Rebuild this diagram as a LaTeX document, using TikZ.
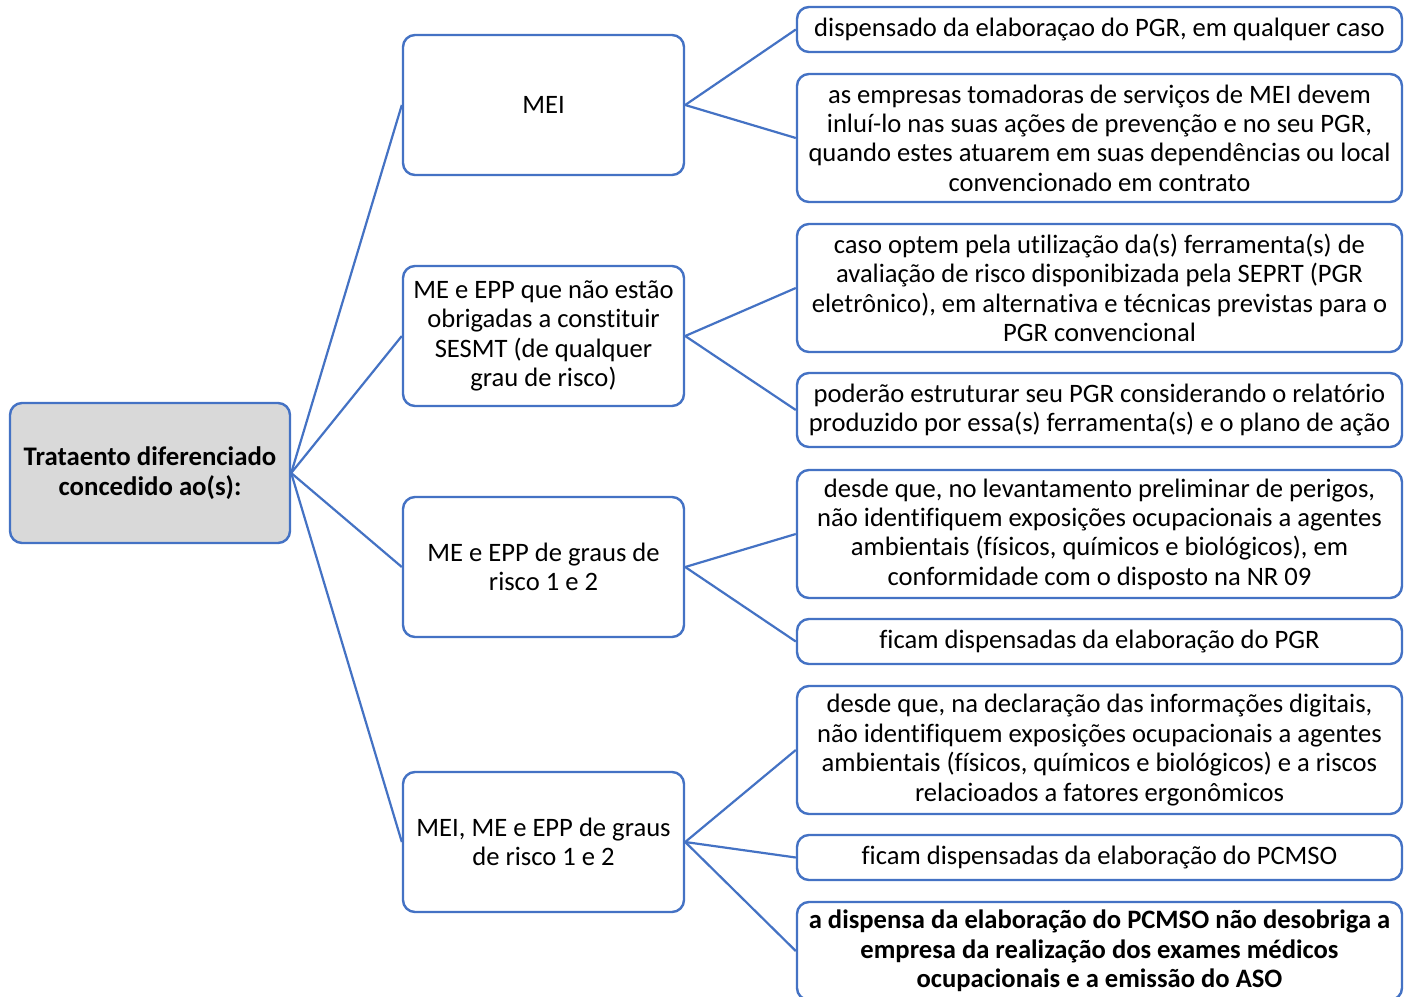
\documentclass[tikz,border=0pt]{standalone}
\usepackage{fontspec}
\setmainfont{Carlito}[RawFeature={-liga;-clig;-dlig;-calt}]
\definecolor{lineblue}{RGB}{68,114,196}
\definecolor{rootgray}{RGB}{217,217,217}
\begin{document}
\begin{tikzpicture}[x=1pt,y=-1pt,
  box/.style={draw=lineblue, line width=2.4pt, rounded corners=12pt, fill=white,
    align=center, inner sep=0pt, font=\fontsize{26.6}{29.4}\selectfont},
  rootbox/.style={box, fill=rootgray, font=\fontsize{26.8}{29.4}\selectfont\bfseries},
  midbox/.style={box, minimum width=281pt, minimum height=140pt},
  rbox/.style={box, minimum width=605pt},
  conn/.style={draw=lineblue, line width=2.2pt}]
\clip (0,0) rectangle (1408,996);
\fill[white] (0,0) rectangle (1408,996);

% root
\node[rootbox, minimum width=280pt, minimum height=140pt] (root) at (150,473)
  {\raisebox{-1.5pt}{\parbox{270pt}{\centering Trataento diferenciado\\concedido ao(s):}}};

% middle column
\node[midbox] (m1) at (543.5,105) {\raisebox{-1.5pt}{MEI}};
\node[midbox] (m2) at (543.5,336) {ME e EPP que não estão\\obrigadas a constituir\\SESMT (de qualquer\\grau de risco)};
\node[midbox] (m3) at (543.5,567) {ME e EPP de graus de\\risco 1 e 2};
\node[midbox] (m4) at (543.5,842) {MEI, ME e EPP de graus\\de risco 1 e 2};

% right column
\node[rbox, minimum height=45pt] (r1) at (1099.5,29.5) {dispensado da elaboraçao do PGR, em qualquer caso};
\node[rbox, minimum height=128pt] (r2) at (1099.5,138) {as empresas tomadoras de serviços de MEI devem\\inluí-lo nas suas ações de prevenção e no seu PGR,\\quando estes atuarem em suas dependências ou local\\convencionado em contrato};
\node[rbox, minimum height=128pt] (r3) at (1099.5,288) {caso optem pela utilização da(s) ferramenta(s) de\\avaliação de risco disponibizada pela SEPRT (PGR\\eletrônico), em alternativa e técnicas previstas para o\\PGR convencional};
\node[rbox, minimum height=74pt] (r4) at (1099.5,410) {poderão estruturar seu PGR considerando o relatório\\produzido por essa(s) ferramenta(s) e o plano de ação};
\node[rbox, minimum height=128pt] (r5) at (1099.5,534) {desde que, no levantamento preliminar de perigos,\\não identifiquem exposições ocupacionais a agentes\\ambientais (físicos, químicos e biológicos), em\\conformidade com o disposto na NR 09};
\node[rbox, minimum height=45pt] (r6) at (1099.5,641.5) {ficam dispensadas da elaboração do PGR};
\node[rbox, minimum height=128pt] (r7) at (1099.5,750) {desde que, na declaração das informações digitais,\\não identifiquem exposições ocupacionais a agentes\\ambientais (físicos, químicos e biológicos) e a riscos\\relacioados a fatores ergonômicos};
\node[rbox, minimum height=45pt] (r8) at (1099.5,857.5) {ficam dispensadas da elaboração do PCMSO};
\node[rbox, minimum height=98pt, font=\fontsize{26.6}{29.4}\selectfont\bfseries] (r9) at (1099.5,951) {a dispensa da elaboração do PCMSO não desobriga a\\empresa da realização dos exames médicos\\ocupacionais e a emissão do ASO};

% connectors
\foreach \m in {m1,m2,m3,m4} \draw[conn] (root.east) -- (\m.west);
\draw[conn] (m1.east) -- (r1.west);
\draw[conn] (m1.east) -- (r2.west);
\draw[conn] (m2.east) -- (r3.west);
\draw[conn] (m2.east) -- (r4.west);
\draw[conn] (m3.east) -- (r5.west);
\draw[conn] (m3.east) -- (r6.west);
\draw[conn] (m4.east) -- (r7.west);
\draw[conn] (m4.east) -- (r8.west);
\draw[conn] (m4.east) -- (r9.west);
\end{tikzpicture}
\end{document}
